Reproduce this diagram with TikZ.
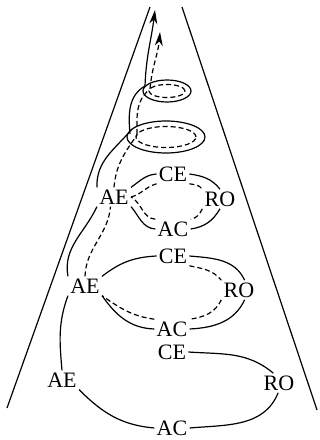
\documentclass[tikz,border=0pt]{standalone}
\usepackage{fontspec}
\setmainfont{Liberation Serif}
\usetikzlibrary{arrows.meta}
\tikzset{
  lbl/.style={font=\fontsize{11}{13}\selectfont, inner sep=1pt},
  solidln/.style={line width=0.6pt},
  dashln/.style={line width=0.6pt, dash pattern=on 2.5pt off 1.5pt},
  tipped/.style={-{Stealth[length=7pt,width=4pt]}}
}
\begin{document}
\begin{tikzpicture}[x=0.5pt,y=0.5pt]
\useasboundingbox (0,0) rectangle (320,440);
% cone
\coordinate (lt) at (150,433); \coordinate (lb) at (7,32);
\coordinate (rt) at (182,433); \coordinate (rb) at (317,30);
\draw[solidln] (lt) -- (lb);
\draw[solidln] (rt) -- (rb);
% labels
\node[lbl] (ce1) at (172,88) {CE};
\node[lbl] (ro1) at (279,57) {RO};
\node[lbl] (ac1) at (172,12) {AC};
\node[lbl] (ae1) at (62,60) {AE};
\node[lbl] (ce2) at (173,184) {CE};
\node[lbl] (ro2) at (239,150) {RO};
\node[lbl] (ac2) at (172,111) {AC};
\node[lbl] (ae2) at (85,154) {AE};
\node[lbl] (ce3) at (173,266) {CE};
\node[lbl] (ro3) at (220,241) {RO};
\node[lbl] (ac3) at (173,211) {AC};
\node[lbl] (ae3) at (114,243) {AE};
% bottom level
\draw[solidln] (ce1.east) to[out=-4,in=140] (ro1.120);
\draw[solidln] (ro1.-95) to[out=-112,in=5] (ac1.east);
\draw[solidln] (ac1.west) to[out=175,in=-45] (ae1.south east);
\draw[solidln] (ae1.north) to[out=95,in=-110] (ae2.south west);
% middle level
\draw[solidln] (ae2.south east) to[out=-55,in=178] (ac2.west);
\draw[solidln] (ac2.east) to[out=3,in=-115] (ro2.-60);
\draw[solidln] (ro2.60) to[out=115,in=-5] (ce2.east);
\draw[solidln] (ce2.west) to[out=183,in=38] (ae2.north east);
\draw[dashln] (ce2.south east) to[out=-12,in=130] (ro2.north west);
\draw[dashln] (ro2.south west) to[out=-115,in=8] (ac2.north east);
\draw[dashln] (ac2.north west) to[out=172,in=-35] (ae2.south east);
\draw[solidln] (ae2.north west) to[out=100,in=-115] (ae3.south west);
\draw[dashln] (ae2.north) to[out=88,in=-95] (ae3.-110);
% upper level
\draw[solidln] (ae3.north east) to[out=35,in=184] (ce3.west);
\draw[solidln] (ce3.east) to[out=-8,in=128] (ro3.north);
\draw[solidln] (ro3.south) to[out=-120,in=8] (ac3.east);
\draw[solidln] (ac3.west) to[out=176,in=-50] (ae3.south east);
\draw[dashln] (ae3.east) to[out=15,in=195] (ce3.south west);
\draw[dashln] (ce3.south east) to[out=-10,in=125] (ro3.north west);
\draw[dashln] (ro3.south west) to[out=-115,in=10] (ac3.north east);
\draw[dashln] (ac3.north west) to[out=175,in=-30] (ae3.east);
% top loops
\coordinate (c2) at (166,303);
\coordinate (c1) at (167,349);
\draw[solidln] (c2) ellipse [x radius=39, y radius=16];
\draw[dashln] (c2) ellipse [x radius=30, y radius=10.5];
\draw[solidln] (c1) ellipse [x radius=24, y radius=11];
\draw[dashln] (c1) ellipse [x radius=18, y radius=6.5];
% rising strands
\coordinate (s2in) at (132,311);
\coordinate (s2out) at (130,306);
\coordinate (s1in) at (145,354);
\coordinate (s1out) at (145,354);
\coordinate (tip1) at (155,430);
\coordinate (d2in) at (137,305);
\coordinate (d2out) at (137,306);
\coordinate (d1in) at (149,350);
\coordinate (d1out) at (150,351);
\coordinate (tip2) at (160,408);
\draw[solidln] (ae3.north west) to[out=92,in=-130] (s2in);
\draw[solidln] (s2out) to[out=95,in=-150] (s1in);
\draw[solidln,tipped] (s1out) to[out=88,in=-97] (tip1);
\draw[dashln] (ae3.north) to[out=85,in=-125] (d2in);
\draw[dashln] (d2out) to[out=90,in=-140] (d1in);
\draw[dashln,tipped] (d1out) to[out=85,in=-95] (tip2);
\end{tikzpicture}
\end{document}
